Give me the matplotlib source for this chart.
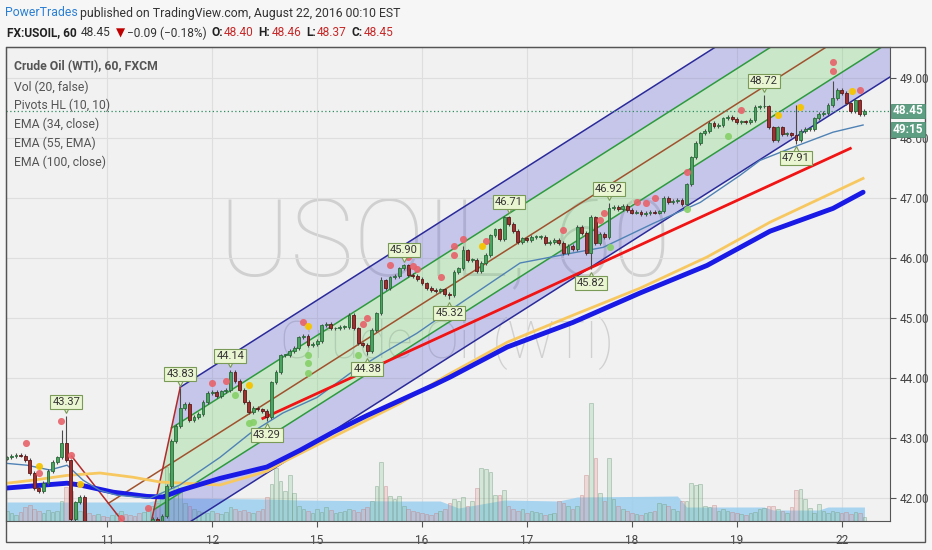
import matplotlib
matplotlib.use('Agg')
import matplotlib.pyplot as plt
from matplotlib.patches import Rectangle
from matplotlib.transforms import offset_copy

plt.rcParams['font.family'] = ['Roboto', 'DejaVu Sans']

# ---- data (hourly bars, index 0 = first bar on screen) ----
closes = [
    42.68, 42.70, 42.72, 42.71, 42.64, 42.42, 42.17, 42.12, 42.25, 42.45,
    42.60, 42.68, 42.92, 42.63, 41.65, 41.93, 42.02, 41.55, 41.45, 41.40,
    41.42, 41.35, 41.30, 41.33, 41.45, 41.50, 41.40, 41.30, 41.22, 41.18,
    41.20, 41.55, 41.65, 41.62, 41.70, 42.20, 42.95, 43.20, 43.50, 43.57,
    43.30, 43.35, 43.40, 43.60, 43.75, 43.77, 43.70, 43.78, 43.80, 44.10,
    43.95, 43.80, 43.60, 43.43, 43.50, 43.48, 43.45, 43.35, 43.93, 44.10,
    44.38, 44.38, 44.45, 44.50, 44.68, 44.70, 44.55, 44.57, 44.62, 44.88,
    44.90, 44.83, 44.83, 44.85, 44.85, 45.05, 44.83, 44.58, 44.55, 44.45,
    44.80, 45.08, 45.63, 45.50, 45.68, 45.70, 45.83, 45.88, 45.72, 45.70,
    45.65, 45.58, 45.50, 45.47, 45.45, 45.48, 45.40, 45.38, 45.77, 45.83,
    46.13, 45.97, 45.97, 45.78, 45.92, 46.05, 46.38, 46.48, 46.32, 46.68,
    46.57, 46.45, 46.27, 46.33, 46.30, 46.35, 46.35, 46.35, 46.25, 46.27,
    46.30, 46.25, 46.08, 46.20, 46.15, 46.52, 46.42, 46.08, 46.68, 46.25,
    46.40, 46.35, 46.83, 46.85, 46.82, 46.87, 46.80, 46.76, 46.77, 46.74,
    46.75, 46.77, 46.76, 46.78, 47.00, 46.93, 46.95, 46.97, 46.90, 47.23,
    47.68, 47.92, 48.08, 48.12, 48.25, 48.20, 48.22, 48.33, 48.35, 48.32,
    48.27, 48.28, 48.27, 48.30, 48.52, 48.53, 48.53, 48.18, 47.97, 48.18,
    48.07, 48.08, 48.05, 47.97, 48.12, 48.15, 48.15, 48.33, 48.40, 48.42,
    48.55, 48.67, 48.80, 48.75, 48.58, 48.45, 48.63, 48.40, 48.45,
]
first_open = 42.66
extra_highs = {12: 43.13, 82: 45.68, 100: 46.20, 128: 46.72, 173: 48.55, 181: 48.95}
extra_lows = {14: 41.55}

volumes = [
    10, 8, 6, 9, 14, 16, 12, 10, 8, 11,
    9, 10, 20, 34, 30, 12, 10, 15, 8, 6,
    7, 5, 4, 6, 8, 10, 7, 6, 5, 8,
    9, 12, 15, 18, 25, 54, 48, 35, 30, 18,
    15, 12, 10, 9, 8, 10, 8, 7, 9, 14,
    12, 10, 11, 9, 8, 10, 12, 24, 37, 53,
    40, 30, 46, 28, 15, 12, 10, 8, 12, 9,
    14, 11, 8, 9, 10, 12, 11, 9, 12, 14,
    20, 35, 59, 35, 25, 22, 25, 15, 12, 10,
    9, 8, 7, 6, 8, 10, 12, 18, 22, 20,
    24, 15, 20, 33, 53, 52, 49, 26, 26, 31,
    15, 12, 10, 12, 8, 10, 9, 8, 6, 7,
    8, 20, 18, 15, 12, 15, 26, 46, 118, 63,
    28, 20, 63, 22, 15, 12, 10, 8, 7, 6,
    8, 9, 10, 18, 17, 15, 12, 10, 20, 20,
    38, 36, 37, 15, 14, 16, 10, 12, 10, 9,
    8, 7, 6, 8, 9, 12, 13, 15, 15, 12,
    10, 8, 14, 31, 32, 22, 13, 8, 17, 10,
    8, 10, 9, 8, 9, 7, 9, 8, 4,
]
vol_ma_x = [0, 31, 35, 57, 64, 86, 95, 99, 109, 121, 125, 147, 149, 166, 168, 178, 180, 188]
vol_ma_y = [19, 19, 23, 22, 21, 20, 20, 13, 21, 20, 24, 25, 14, 14, 11, 11, 14, 14]

ema34_x = [0, 4.4, 9.4, 13.2, 16.7, 20.4, 24.1, 31.4, 37.9, 41.7, 46.7, 53.3, 60.5, 68,
           75.2, 82.5, 89.9, 97.1, 112.5, 123.5, 130.7, 141.7, 152, 160.7, 165.1, 172.4, 181.1, 187.7]
ema34_y = [42.58, 42.55, 42.47, 42.55, 42.30, 42.13, 42.05, 42.00, 42.22, 42.42, 42.68, 43.08, 43.42, 43.68,
           44.08, 44.42, 44.75, 45.13, 45.92, 46.08, 46.18, 46.58, 46.93, 47.38, 47.63, 47.85, 48.10, 48.22]
ema55_x = [0, 5.7, 13.2, 20.4, 27.6, 33.6, 46.7, 57, 60.5, 71.5, 86.2, 96.5, 109.7, 124.1, 138.8, 153.5, 167.3, 187.7]
ema55_y = [42.25, 42.30, 42.38, 42.42, 42.35, 42.27, 42.22, 42.45, 42.60, 43.02, 43.58, 44.05, 44.60, 45.05,
           45.50, 46.02, 46.60, 47.33]
ema100_x = [0, 13.2, 16, 23.3, 30.7, 34.2, 38, 46.7, 57, 64.3, 71.5, 79, 86.2, 93.4, 97.2, 109.7, 124.1,
            138.8, 153.5, 167.3, 181.1, 187.7]
ema100_y = [42.17, 42.25, 42.22, 42.10, 42.03, 42.02, 42.13, 42.33, 42.52, 42.80, 43.10, 43.38, 43.63, 43.88,
            44.02, 44.52, 44.93, 45.42, 45.88, 46.45, 46.83, 47.10]
trend_x = [56.1, 184.9]
trend_y = [43.33, 47.83]

# Schiff pitchfork anchor points (bar, price)
pf_a = (14.2, 42.70)
pf_b = (30.3, 41.13)
pf_c = (38.0, 43.85)

pivot_hi_x = [13, 38, 49, 87, 110, 132, 166]
pivot_hi_y = [43.37, 43.83, 44.14, 45.90, 46.71, 46.92, 48.72]
pivot_lo_x = [57, 79, 97, 128, 173]
pivot_lo_y = [43.29, 44.38, 45.32, 45.82, 47.91]

red_dot_x = [4.2, 11.8, 14.0, 7.0, 25.0, 30.9, 45.0, 48.0, 64.9, 78.1, 78.9, 84.0, 87.9, 89.0, 89.9, 95.2,
             98.0, 98.0, 100.0, 105.0, 121.9, 130.0, 130.9, 138.2, 140.1, 142.1, 149.1, 161.0, 181.1, 181.1, 187.1]
red_dot_y = [42.92, 43.28, 42.72, 42.42, 41.67, 41.83, 43.92, 43.95, 44.93, 44.90, 45.00, 45.88, 46.02, 45.87,
             45.82, 45.68, 46.20, 46.05, 46.32, 46.28, 46.47, 46.63, 46.75, 46.93, 46.92, 47.00, 47.43, 48.47,
             49.27, 49.12, 48.80]
yel_dot_x = [7.0, 16.0, 53.1, 66.0, 104.2, 169.1, 173.9, 185.3]
yel_dot_y = [42.53, 42.23, 43.88, 44.87, 46.20, 48.38, 48.52, 48.78]
grn_dot_x = [50.0, 53.1, 54.0, 66.0, 66.0, 66.0, 77.0, 132.2, 149.1, 158.1]
grn_dot_y = [43.72, 43.25, 43.27, 44.38, 44.25, 44.08, 44.38, 46.18, 46.82, 48.03]

day_ticks = [22, 45, 68, 91, 114, 137, 160, 183]
day_labels = ['11', '12', '15', '16', '17', '18', '19', '22']
price_ticks = [42, 43, 44, 45, 46, 47, 48, 49]
last_price = 48.45

legend_lines = ['Vol (20, false)', 'Pivots HL (10, 10)', 'EMA (34, close)', 'EMA (55, EMA)', 'EMA (100, close)']

# header pieces: text, colour, weight, gap before (px)
header2 = [('FX:USOIL, 60', '#222', 'bold', 0), ('48.45', '#333', 'normal', 4), ('\u25bc', '#c00000', 'normal', 5),
           ('\u22120.09 (\u22120.18%)', '#333', 'normal', 2), ('O:', '#222', 'bold', 5),
           ('48.40', '#c62828', 'normal', 1), ('H:', '#222', 'bold', 5), ('48.46', '#c62828', 'normal', 1),
           ('L:', '#222', 'bold', 5), ('48.37', '#c62828', 'normal', 1), ('C:', '#222', 'bold', 5),
           ('48.45', '#c62828', 'normal', 1)]

# ---- figure ----
W, H = 932, 550
fig = plt.figure(figsize=(W / 100, H / 100), dpi=100, facecolor='#f6f6f6')


def fx(x):
    return x / W


def fy(y):
    return 1 - y / H


ax = fig.add_axes([fx(6), fy(521), fx(890) - fx(6), fy(47) - fy(521)])
ax.set_facecolor('#f1f1f1')
x_lo, x_hi = -0.2, 193.6
y_lo, y_hi = 41.62, 49.52
ax.set_xlim(x_lo, x_hi)
ax.set_ylim(y_lo, y_hi)

ax.set_xticks(day_ticks)
ax.set_xticklabels(day_labels)
ax.set_yticks(price_ticks)
ax.set_yticklabels(['%.2f' % v for v in price_ticks])
ax.yaxis.tick_right()
ax.grid(color='#dedede', lw=0.8)
ax.set_axisbelow(True)
ax.tick_params(axis='x', length=4, pad=5, labelsize=8.5, colors='#555', labelcolor='#444')
ax.tick_params(axis='y', length=4, pad=3, labelsize=8.5, colors='#555', labelcolor='#444')
for sp in ax.spines.values():
    sp.set_color('#555')

# watermark
ax.text(0.497, 0.578, 'USOIL, 60', transform=ax.transAxes, fontsize=77, color='#d0d0d0',
        ha='center', va='center', fontweight='light', zorder=0)
ax.text(0.499, 0.375, 'Crude Oil (WTI)', transform=ax.transAxes, fontsize=37, color='#d0d0d0',
        ha='center', va='center', fontweight='light', zorder=0)

# volume + its average (scaled into the bottom of the price pane)
vscale = 1 / 60.0
ax.fill_between(vol_ma_x, y_lo, [y_lo + v * vscale for v in vol_ma_y], color='#9ccff0', alpha=0.85,
                lw=0, zorder=1)
opens = [first_open] + closes[:-1]
for i, v in enumerate(volumes):
    up = closes[i] >= opens[i]
    fc = (0.55, 0.8, 0.58, 0.28) if up else (0.9, 0.6, 0.6, 0.28)
    ec = (0.45, 0.6, 0.5, 0.45) if up else (0.75, 0.5, 0.5, 0.45)
    ax.bar(i, v * vscale, bottom=y_lo, width=0.8, color=fc, edgecolor=ec, lw=0.6, zorder=1.5)

# pitchfork
slope = (pf_c[1] - pf_a[1]) / (pf_c[0] - pf_a[0])
mid_bc = ((pf_b[0] + pf_c[0]) / 2, (pf_b[1] + pf_c[1]) / 2)
origin = ((pf_a[0] + pf_b[0]) / 2, (pf_a[1] + pf_b[1]) / 2)


def level_start(f):
    return (mid_bc[0] + f * (pf_c[0] - mid_bc[0]), mid_bc[1] + f * (pf_c[1] - mid_bc[1]))


def level_end(f):
    sx, sy = level_start(f)
    return (x_hi, sy + slope * (x_hi - sx))


bands = [(-1, -0.5, (0.35, 0.35, 0.85, 0.28)), (-0.5, 0.5, (0.35, 0.8, 0.35, 0.25)),
         (0.5, 1, (0.35, 0.35, 0.85, 0.28))]
for f1, f2, col in bands:
    p1, p2, r2, r1 = level_start(f1), level_start(f2), level_end(f2), level_end(f1)
    ax.fill([p1[0], p2[0], r2[0], r1[0]], [p1[1], p2[1], r2[1], r1[1]], color=col, lw=0, zorder=2)
for f, col in [(-1, '#2a2a9a'), (1, '#2a2a9a'), (-0.5, '#2e9a3e'), (0.5, '#2e9a3e')]:
    s, e = level_start(f), level_end(f)
    ax.plot([s[0], e[0]], [s[1], e[1]], color=col, lw=1.1, zorder=2.5)
ax.plot([origin[0], x_hi], [origin[1], origin[1] + slope * (x_hi - origin[0])], color='#a0522d', lw=1.1,
        zorder=2.5)
ax.plot([pf_a[0], pf_b[0], pf_c[0]], [pf_a[1], pf_b[1], pf_c[1]], color='#b22a2a', lw=1.1, zorder=2.5)

# moving averages and trend line
ax.plot(ema55_x, ema55_y, color='#f8c860', lw=2, zorder=3)
ax.plot(ema100_x, ema100_y, color='#1a1ae6', lw=3.5, zorder=3, solid_capstyle='round')
ax.plot(ema34_x, ema34_y, color='#4f82b5', lw=1, zorder=3)
ax.plot(trend_x, trend_y, color='#f01414', lw=2, zorder=3)

ax.axhline(last_price, color='#2e8b60', ls=(0, (1, 2)), lw=0.9, zorder=3)

# candles
highs_map = dict(extra_highs)
highs_map.update(dict(zip(pivot_hi_x, pivot_hi_y)))
lows_map = dict(extra_lows)
lows_map.update(dict(zip(pivot_lo_x, pivot_lo_y)))
for i, c in enumerate(closes):
    o = opens[i]
    hi = highs_map.get(i, max(o, c) + 0.03)
    lo = lows_map.get(i, min(o, c) - 0.03)
    up = c >= o
    body = '#4aa35e' if up else '#9e3030'
    edge = '#2b6a3a' if up else '#5c1818'
    ax.vlines(i, lo, hi, color='#4a4a4a', lw=0.8, zorder=4)
    ax.bar(i, max(abs(c - o), 0.015), bottom=min(o, c), width=0.62, color=body, edgecolor=edge, lw=0.6,
           zorder=4.5)

# pivot dots
ax.scatter(red_dot_x, red_dot_y, s=26, color='#e8626a', alpha=0.9, lw=0, zorder=5)
ax.scatter(yel_dot_x, yel_dot_y, s=26, color='#f5c400', alpha=0.95, lw=0, zorder=5)
ax.scatter(grn_dot_x, grn_dot_y, s=26, color='#86d068', alpha=0.9, lw=0, zorder=5)

# pivot labels
box = dict(boxstyle='square,pad=0.18', fc='#eaf5d2', ec='#7a9a58', lw=0.8)
tri_up = offset_copy(ax.transData, fig=fig, y=4, units='points')
tri_dn = offset_copy(ax.transData, fig=fig, y=-4, units='points')
for x, v in zip(pivot_hi_x, pivot_hi_y):
    ax.plot(x, v, marker='v', ms=5, mfc='#eaf5d2', mec='#7a9a58', mew=0.8, transform=tri_up, zorder=6)
    ax.annotate('%.2f' % v, (x, v), xytext=(0, 6.5), textcoords='offset points', ha='center', va='bottom',
                fontsize=8, color='#333', bbox=box, zorder=7)
for x, v in zip(pivot_lo_x, pivot_lo_y):
    ax.plot(x, v, marker='^', ms=5, mfc='#eaf5d2', mec='#7a9a58', mew=0.8, transform=tri_dn, zorder=6)
    ax.annotate('%.2f' % v, (x, v), xytext=(0, -6.5), textcoords='offset points', ha='center', va='top',
                fontsize=8, color='#333', bbox=box, zorder=7)

# legend block
ax.text(fx(14), fy(67), 'Crude Oil (WTI), 60, FXCM', transform=fig.transFigure, fontsize=8.8,
        fontweight='bold', color='#555', va='center', zorder=8)
for k, s in enumerate(legend_lines):
    fig.text(fx(14), fy(87 + 18.8 * k), s, fontsize=8.8, color='#555', va='center')

# header
fig.text(fx(5), fy(13), 'PowerTrades', fontsize=8.8, color='#2a7fd4', va='center')
fig.text(fx(80), fy(13), 'published on TradingView.com, August 22, 2016 00:10 EST', fontsize=8.8,
         color='#333', va='center')
renderer = fig.canvas.get_renderer()
xpos = 7
for s, col, wt, gap in header2:
    xpos += gap
    t = fig.text(fx(xpos), fy(33), s, fontsize=8.6, color=col, fontweight=wt, va='center',
                 family=['Roboto', 'DejaVu Sans'])
    xpos = t.get_window_extent(renderer).x1

# outer frame and price tags
fig.add_artist(Rectangle((fx(6), fy(542)), fx(925) - fx(6), fy(47) - fy(542), transform=fig.transFigure,
                         fill=False, ec='#555', lw=1))
for top, bot, s in [(104, 118, '48.45'), (122, 137, '49:15')]:
    fig.add_artist(Rectangle((fx(891), fy(bot)), fx(925) - fx(891), fy(top) - fy(bot),
                             transform=fig.transFigure, fc='#5e9e82', ec='#4d8a70', lw=0.6, zorder=10))
    fig.text(fx(908), fy((top + bot) / 2), s, fontsize=8.5, fontweight='bold', color='white', ha='center',
             va='center', zorder=11)

fig.savefig('out.png', dpi=100, facecolor=fig.get_facecolor())
